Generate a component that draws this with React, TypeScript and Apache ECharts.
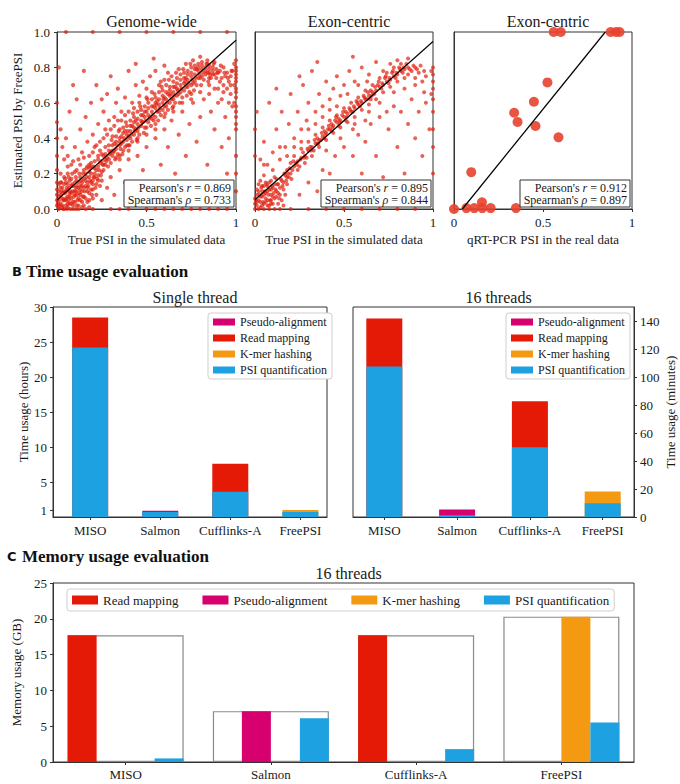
import React, { useEffect, useRef } from "react";
import * as echarts from "echarts";

// ---------- Panel A data ----------
const genomeWidePoints: [number, number][] = [
  // dense cluster near the origin
  [0.01,0.01],[0.02,0.03],[0.03,0.01],[0.04,0.05],[0.05,0.02],[0.06,0.07],[0.07,0.03],[0.08,0.06],[0.09,0.1],[0.1,0.04],
  [0.11,0.08],[0.12,0.12],[0.13,0.05],[0.14,0.1],[0.02,0.08],[0.03,0.12],[0.05,0.1],[0.06,0.14],[0.08,0.13],[0.1,0.15],
  [0.12,0.02],[0.15,0.07],[0.04,0.0],[0.09,0.0],[0.14,0.01],[0.01,0.05],[0.07,0.09],[0.11,0.13],[0.16,0.13],[0.17,0.04],
  [0.18,0.09],[0.19,0.15],[0.2,0.11],[0.02,0.15],[0.04,0.18],[0.06,0.2],[0.08,0.17],[0.1,0.21],[0.13,0.18],[0.16,0.2],
  [0.18,0.18],[0.2,0.06],[0.22,0.14],[0.21,0.2],[0.03,0.06],[0.05,0.06],[0.07,0.12],[0.09,0.04],[0.11,0.02],[0.13,0.08],
  [0.15,0.12],[0.17,0.1],[0.01,0.1],[0.02,0.2],[0.04,0.1],[0.06,0.03],[0.08,0.09],[0.1,0.08],[0.12,0.06],[0.14,0.15],
  [0.0,0.02],[0.0,0.05],[0.0,0.08],[0.0,0.11],[0.01,0.14],[0.02,0.12],[0.03,0.09],[0.04,0.14],[0.05,0.15],[0.06,0.11],
  [0.07,0.16],[0.08,0.03],[0.09,0.13],[0.1,0.1],[0.11,0.16],[0.12,0.15],[0.13,0.11],[0.14,0.04],[0.15,0.02],[0.16,0.06],
  [0.17,0.15],[0.18,0.05],[0.19,0.11],[0.2,0.14],[0.03,0.02],[0.05,0.05],[0.07,0.07],[0.09,0.02],[0.11,0.1],[0.13,0.13],
  [0.06,0.01],[0.01,0.0],[0.12,0.0],[0.16,0.0],[0.18,0.01],[0.22,0.08],[0.24,0.13],[0.23,0.19],[0.25,0.16],[0.26,0.25],
  [0.005,0.03],[0.015,0.07],[0.025,0.1],[0.035,0.05],[0.045,0.09],[0.055,0.12],[0.065,0.05],[0.075,0.1],[0.085,0.14],[0.095,0.07],
  [0.105,0.12],[0.115,0.05],[0.125,0.09],[0.135,0.16],[0.145,0.07],[0.155,0.1],[0.165,0.18],[0.175,0.13],[0.185,0.16],[0.195,0.08],
  [0.205,0.18],[0.215,0.12],[0.225,0.17],[0.235,0.22],[0.245,0.19],[0.015,0.02],[0.035,0.0],[0.055,0.0],[0.075,0.0],[0.105,0.0],
  [0.025,0.15],[0.045,0.17],[0.065,0.18],[0.085,0.2],[0.105,0.18],[0.125,0.2],[0.145,0.2],[0.165,0.23],[0.185,0.23],[0.205,0.24],
  // main band
  [0.15,0.17],[0.15,0.22],[0.17,0.12],[0.17,0.24],[0.19,0.2],[0.19,0.26],[0.21,0.18],[0.21,0.27],[0.23,0.24],[0.23,0.3],
  [0.23,0.16],[0.25,0.27],[0.25,0.21],[0.27,0.31],[0.27,0.25],[0.27,0.35],[0.29,0.28],[0.29,0.33],[0.31,0.36],[0.31,0.3],
  [0.31,0.41],[0.33,0.34],[0.33,0.38],[0.33,0.29],[0.35,0.4],[0.35,0.36],[0.35,0.45],[0.37,0.38],[0.37,0.43],[0.37,0.33],
  [0.39,0.42],[0.39,0.47],[0.39,0.39],[0.41,0.44],[0.41,0.5],[0.41,0.4],[0.43,0.46],[0.43,0.52],[0.43,0.42],[0.45,0.48],
  [0.45,0.55],[0.45,0.44],[0.47,0.5],[0.47,0.47],[0.47,0.56],[0.49,0.52],[0.49,0.46],[0.49,0.58],[0.51,0.53],[0.51,0.49],
  [0.51,0.6],[0.53,0.55],[0.53,0.51],[0.53,0.62],[0.55,0.57],[0.55,0.52],[0.55,0.63],[0.57,0.59],[0.57,0.55],[0.57,0.66],
  [0.59,0.6],[0.59,0.56],[0.59,0.67],[0.61,0.62],[0.61,0.58],[0.61,0.7],[0.63,0.64],[0.63,0.6],[0.63,0.69],[0.65,0.66],
  [0.65,0.62],[0.65,0.72],[0.67,0.68],[0.67,0.64],[0.67,0.74],[0.69,0.7],[0.69,0.66],[0.69,0.76],[0.71,0.71],[0.71,0.67],
  [0.71,0.77],[0.73,0.73],[0.73,0.69],[0.73,0.78],[0.75,0.75],[0.75,0.7],[0.75,0.8],[0.77,0.76],[0.77,0.72],[0.77,0.81],
  [0.79,0.78],[0.79,0.74],[0.79,0.82],[0.81,0.79],[0.81,0.75],[0.81,0.83],[0.83,0.8],[0.83,0.76],[0.85,0.81],[0.85,0.77],
  [0.85,0.74],[0.87,0.8],[0.87,0.76],[0.89,0.79],[0.89,0.74],[0.91,0.78],[0.91,0.72],[0.93,0.8],[0.93,0.7],[0.95,0.77],
  [0.95,0.68],[0.97,0.75],[0.97,0.65],[0.3,0.32],[0.36,0.41],[0.42,0.47],[0.48,0.53],[0.54,0.58],[0.6,0.63],[0.66,0.69],
  [0.72,0.74],[0.78,0.79],[0.84,0.82],[0.26,0.3],[0.32,0.37],[0.38,0.44],[0.44,0.5],[0.5,0.55],[0.56,0.61],[0.62,0.65],
  [0.14,0.13],[0.16,0.16],[0.18,0.21],[0.2,0.16],[0.22,0.22],[0.24,0.26],[0.26,0.22],[0.28,0.29],[0.3,0.26],[0.32,0.33],
  [0.34,0.31],[0.36,0.37],[0.38,0.35],[0.4,0.41],[0.42,0.38],[0.44,0.45],[0.46,0.42],[0.48,0.49],[0.5,0.46],[0.52,0.52],
  [0.54,0.5],[0.56,0.55],[0.58,0.53],[0.6,0.58],[0.62,0.56],[0.64,0.62],[0.66,0.6],[0.68,0.65],[0.7,0.63],[0.72,0.69],
  [0.74,0.66],[0.76,0.71],[0.78,0.7],[0.8,0.74],[0.82,0.73],[0.84,0.77],[0.86,0.74],[0.88,0.76],[0.9,0.77],[0.92,0.74],
  [0.94,0.75],[0.96,0.72],[0.19,0.24],[0.21,0.23],[0.23,0.28],[0.25,0.31],[0.27,0.28],[0.29,0.36],[0.31,0.33],[0.33,0.41],
  [0.35,0.38],[0.37,0.46],[0.39,0.36],[0.41,0.47],[0.43,0.49],[0.45,0.51],[0.47,0.53],[0.49,0.55],[0.51,0.57],[0.53,0.58],
  [0.55,0.6],[0.57,0.62],[0.59,0.64],[0.61,0.66],[0.63,0.67],[0.65,0.69],[0.67,0.71],[0.69,0.73],[0.71,0.74],[0.73,0.76],
  [0.75,0.77],[0.77,0.79],[0.79,0.8],[0.81,0.81],[0.83,0.78],[0.85,0.79],[0.87,0.78],
  [0.255,0.25],[0.275,0.27],[0.295,0.31],[0.315,0.32],[0.335,0.36],[0.355,0.34],[0.375,0.4],[0.395,0.44],[0.415,0.42],[0.435,0.44],
  [0.455,0.46],[0.475,0.49],[0.495,0.5],[0.515,0.51],[0.535,0.53],[0.555,0.59],[0.575,0.57],[0.595,0.62],[0.615,0.6],[0.635,0.65],
  [0.655,0.64],[0.675,0.67],[0.695,0.68],[0.715,0.72],[0.735,0.71],[0.755,0.73],[0.775,0.74],[0.795,0.76],[0.815,0.77],[0.835,0.82],
  [0.855,0.76],[0.875,0.82],[0.895,0.77],[0.915,0.81],[0.935,0.77],[0.955,0.74],[0.975,0.78],
  [0.285,0.24],[0.325,0.28],[0.365,0.31],[0.405,0.36],[0.445,0.39],[0.485,0.43],[0.525,0.47],[0.565,0.5],[0.605,0.54],[0.645,0.57],
  [0.685,0.6],[0.725,0.64],[0.765,0.67],[0.805,0.7],[0.845,0.72],
  [0.305,0.39],[0.345,0.44],[0.385,0.49],[0.425,0.54],[0.465,0.58],[0.505,0.62],[0.545,0.65],[0.585,0.69],[0.625,0.73],[0.665,0.77],
  [0.705,0.79],[0.745,0.82],
  // right edge
  [1,0.84],[1,0.8],[1,0.76],[1,0.72],[1,0.68],[1,0.63],[1,0.58],[1,0.52],[1,0.45],[1,0.3],[1,0.2],[1,0.1],
  [0.99,0.82],[0.99,0.7],[0.99,0.6],[1,0.78],[1,0.74],[1,0.66],[1,0.55],[1,0.48],
  // above the band
  [0.01,0.8],[0.0,0.6],[0.0,0.49],[0.0,0.4],[0.0,0.3],[0.0,0.22],[0.0,0.15],[0.02,0.45],[0.03,0.35],[0.04,0.28],
  [0.05,0.4],[0.06,0.3],[0.07,0.55],[0.08,0.25],[0.1,0.35],[0.11,0.62],[0.12,0.28],[0.13,0.45],[0.14,0.32],[0.16,0.52],
  [0.17,0.38],[0.18,0.3],[0.19,0.6],[0.2,0.42],[0.21,0.35],[0.22,0.7],[0.23,0.48],[0.24,0.38],[0.26,0.55],[0.27,0.45],
  [0.28,0.65],[0.29,0.5],[0.3,0.75],[0.32,0.52],[0.33,0.6],[0.34,0.68],[0.36,0.55],[0.38,0.63],[0.4,0.78],[0.42,0.6],
  [0.44,0.7],[0.46,0.64],[0.48,0.72],[0.5,0.68],[0.52,0.75],[0.55,0.78],[0.58,0.72],[0.6,0.81],[0.62,0.77],[0.54,0.85],
  [0.44,0.82],[0.25,0.62],[0.09,0.7],[0.15,0.78],
  [0.06,0.24],[0.09,0.27],[0.11,0.22],[0.13,0.25],[0.15,0.29],[0.18,0.25],[0.2,0.32],[0.22,0.36],[0.24,0.33],[0.26,0.4],
  [0.28,0.42],[0.3,0.45],[0.32,0.47],[0.34,0.5],[0.36,0.5],[0.38,0.53],[0.4,0.55],[0.43,0.57],[0.46,0.6],[0.5,0.63],
  [0.53,0.66],[0.57,0.7],[0.6,0.73],[0.64,0.75],[0.68,0.79],[0.72,0.82],[0.76,0.84],[0.8,0.86],[0.84,0.84],[0.88,0.83],
  // below the band
  [0.2,0.0],[0.25,0.05],[0.28,0.12],[0.3,0.18],[0.32,0.08],[0.35,0.22],[0.38,0.15],[0.4,0.28],[0.42,0.1],[0.45,0.3],
  [0.48,0.22],[0.5,0.35],[0.52,0.05],[0.55,0.4],[0.58,0.25],[0.6,0.45],[0.62,0.35],[0.64,0.5],[0.66,0.2],[0.68,0.42],
  [0.7,0.55],[0.72,0.3],[0.74,0.48],[0.76,0.6],[0.78,0.38],[0.8,0.52],[0.82,0.62],[0.84,0.25],[0.86,0.55],[0.88,0.45],
  [0.9,0.6],[0.92,0.35],[0.94,0.52],[0.96,0.4],[0.98,0.58],[0.8,0.15],[0.9,0.1],[0.7,0.08],[0.6,0.12],[0.95,0.2],
  [0.85,0.65],[0.75,0.65],[0.65,0.55],[0.55,0.45],[0.45,0.38],[0.4,0.33],[0.35,0.28],[0.88,0.68],[0.92,0.62],[0.96,0.6],
  [0.35,0.3],[0.4,0.36],[0.45,0.4],[0.5,0.42],[0.55,0.48],[0.6,0.52],[0.65,0.58],[0.7,0.6],[0.75,0.62],[0.8,0.66],
  [0.85,0.7],[0.9,0.68],[0.93,0.66],[0.97,0.7],[0.98,0.78],
  // bottom and top edges
  [0.3,0],[0.4,0],[0.5,0],[0.6,0],[0.7,0],[0.8,0],[0.9,0],[0.35,0],[0.55,0],[0.65,0],[0.75,0],[0.85,0],[0.95,0],
  [0.05,1],[0.2,1],[0.35,1],[0.5,1],[0.65,1],[0.8,1],[0.95,1]
];

const exonCentricPoints: [number, number][] = [
  // cluster near the origin
  [0.01,0.02],[0.02,0.05],[0.03,0.01],[0.04,0.07],[0.05,0.03],[0.06,0.09],[0.07,0.05],[0.08,0.02],[0.09,0.08],[0.1,0.12],
  [0.11,0.06],[0.12,0.1],[0.02,0.1],[0.04,0.13],[0.06,0.15],[0.08,0.11],[0.1,0.03],[0.13,0.14],[0.14,0.08],[0.15,0.16],
  [0.01,0.08],[0.03,0.16],[0.05,0.19],[0.07,0.13],[0.09,0.16],[0.11,0.18],[0.13,0.03],[0.16,0.11],[0.17,0.19],[0.18,0.14],
  [0.0,0.0],[0.02,0.0],[0.05,0.0],[0.08,0.0],[0.11,0.0],[0.03,0.04],[0.05,0.08],[0.07,0.02],[0.09,0.05],[0.12,0.07],
  [0.0,0.03],[0.0,0.06],[0.01,0.11],[0.02,0.14],[0.03,0.07],[0.04,0.1],[0.05,0.13],[0.06,0.04],[0.07,0.1],[0.08,0.15],
  [0.09,0.11],[0.1,0.07],[0.11,0.14],[0.12,0.17],[0.13,0.09],[0.14,0.12],[0.15,0.05],[0.16,0.15],[0.17,0.08],[0.18,0.18],
  [0.01,0.04],[0.04,0.02],[0.06,0.06],[0.09,0.03],[0.14,0.0],[0.16,0.02],
  [0.005,0.05],[0.025,0.08],[0.035,0.12],[0.045,0.04],[0.055,0.1],[0.065,0.14],[0.075,0.08],[0.085,0.05],[0.095,0.13],[0.105,0.09],
  [0.115,0.11],[0.125,0.14],[0.135,0.06],[0.145,0.17],[0.155,0.13],[0.165,0.2],[0.175,0.16],[0.185,0.2],[0.195,0.23],[0.205,0.17],
  // main band
  [0.18,0.22],[0.2,0.2],[0.2,0.26],[0.22,0.24],[0.22,0.3],[0.24,0.27],[0.24,0.22],[0.26,0.29],[0.26,0.34],[0.28,0.3],
  [0.28,0.26],[0.3,0.33],[0.3,0.38],[0.32,0.35],[0.32,0.3],[0.34,0.37],[0.34,0.42],[0.36,0.39],[0.36,0.35],[0.38,0.41],
  [0.38,0.46],[0.4,0.43],[0.4,0.39],[0.42,0.45],[0.42,0.5],[0.44,0.47],[0.44,0.43],[0.46,0.49],[0.46,0.53],[0.48,0.5],
  [0.48,0.46],[0.5,0.52],[0.5,0.57],[0.52,0.54],[0.52,0.49],[0.54,0.55],[0.54,0.6],[0.56,0.57],[0.56,0.52],[0.58,0.59],
  [0.58,0.63],[0.6,0.6],[0.6,0.56],[0.62,0.62],[0.62,0.67],[0.64,0.64],[0.64,0.59],[0.66,0.66],[0.66,0.7],[0.68,0.67],
  [0.68,0.62],[0.7,0.69],[0.7,0.74],[0.72,0.7],[0.72,0.66],[0.74,0.72],[0.74,0.77],[0.76,0.73],[0.76,0.69],[0.78,0.75],
  [0.78,0.8],[0.8,0.76],[0.8,0.72],[0.82,0.78],[0.82,0.82],[0.84,0.79],[0.84,0.74],[0.86,0.8],[0.86,0.76],[0.88,0.78],
  [0.9,0.8],[0.9,0.74],[0.92,0.77],[0.94,0.72],[0.96,0.75],[0.43,0.48],[0.47,0.51],[0.51,0.55],[0.39,0.44],[0.35,0.4],
  [0.19,0.18],[0.21,0.22],[0.23,0.26],[0.25,0.24],[0.27,0.32],[0.29,0.29],[0.31,0.35],[0.33,0.33],[0.35,0.37],[0.37,0.39],
  [0.39,0.4],[0.41,0.45],[0.43,0.44],[0.45,0.5],[0.47,0.47],[0.49,0.53],[0.51,0.5],[0.53,0.57],[0.55,0.55],[0.57,0.61],
  [0.59,0.58],[0.61,0.64],[0.63,0.62],[0.65,0.67],[0.67,0.65],[0.69,0.7],[0.71,0.68],[0.73,0.74],[0.75,0.71],[0.77,0.77],
  [0.79,0.74],[0.81,0.8],[0.83,0.77],[0.85,0.82],[0.87,0.79],[0.89,0.81],[0.91,0.79],[0.93,0.81],[0.95,0.78],
  [0.215,0.27],[0.235,0.25],[0.255,0.28],[0.275,0.29],[0.295,0.34],[0.315,0.33],[0.335,0.39],[0.355,0.37],[0.375,0.43],[0.395,0.42],
  [0.415,0.47],[0.435,0.46],[0.455,0.52],[0.475,0.49],[0.495,0.55],[0.515,0.52],[0.535,0.56],[0.555,0.58],[0.575,0.6],[0.595,0.61],
  [0.615,0.63],[0.635,0.66],[0.655,0.64],[0.675,0.69],[0.695,0.72],[0.715,0.71],[0.735,0.75],[0.755,0.74],[0.775,0.78],[0.795,0.77],
  [0.815,0.79],[0.835,0.8],
  // right edge
  [1,0.8],[1,0.76],[1,0.72],[1,0.68],[1,0.62],[1,0.55],[1,0.45],[1,0.35],[1,0.2],[0.99,0.78],[0.99,0.65],
  // above the band
  [0.0,0.45],[0.0,0.3],[0.01,0.55],[0.03,0.28],[0.05,0.38],[0.07,0.25],[0.08,0.6],[0.1,0.32],[0.12,0.45],[0.14,0.28],
  [0.15,0.55],[0.17,0.35],[0.19,0.48],[0.2,0.65],[0.22,0.4],[0.24,0.55],[0.26,0.45],[0.27,0.7],[0.29,0.5],[0.3,0.6],
  [0.32,0.78],[0.34,0.55],[0.36,0.65],[0.38,0.58],[0.4,0.72],[0.42,0.62],[0.44,0.68],[0.46,0.75],[0.48,0.64],[0.5,0.7],
  [0.53,0.78],[0.56,0.72],[0.6,0.8],[0.64,0.76],[0.68,0.83],[0.55,0.86],[0.25,0.75],[0.12,0.68],[0.35,0.83],
  [0.05,0.25],[0.1,0.22],[0.14,0.35],[0.18,0.3],[0.22,0.35],[0.26,0.38],[0.3,0.45],[0.34,0.48],[0.38,0.52],[0.42,0.56],
  [0.46,0.58],[0.52,0.65],[0.58,0.7],[0.63,0.72],[0.72,0.78],[0.76,0.82],[0.8,0.84],[0.86,0.85],
  // below the band
  [0.25,0.08],[0.3,0.15],[0.35,0.1],[0.38,0.22],[0.42,0.2],[0.45,0.3],[0.48,0.15],[0.5,0.35],[0.52,0.08],[0.55,0.3],
  [0.58,0.42],[0.6,0.2],[0.62,0.38],[0.65,0.48],[0.68,0.3],[0.7,0.52],[0.72,0.18],[0.75,0.45],[0.78,0.58],[0.8,0.35],
  [0.82,0.55],[0.84,0.2],[0.86,0.48],[0.88,0.62],[0.9,0.4],[0.92,0.55],[0.94,0.3],[0.96,0.6],[0.98,0.45],[0.75,0.1],
  [0.85,0.05],[0.65,0.62],[0.55,0.45],[0.4,0.33],[0.48,0.4],[0.56,0.48],[0.64,0.55],[0.7,0.6],[0.78,0.66],[0.84,0.68],
  [0.9,0.7],[0.95,0.66],[0.62,0.5],[0.74,0.55],
  // bottom edge
  [0.2,0],[0.3,0],[0.4,0],[0.5,0],[0.6,0],[0.7,0],[0.8,0],[0.9,0]
];

const qpcrPoints: [number, number][] = [
  [0.56,1],[0.6,1],[0.88,1],[0.91,1],[0.93,1],
  [0.525,0.715],[0.449,0.606],[0.338,0.544],[0.357,0.492],[0.458,0.469],[0.587,0.405],
  [0.097,0.208],[0.157,0.038],
  [0,0],[0.07,0.005],[0.114,0.005],[0.159,0.005],[0.206,0.005],[0.348,0.005]
];

const genomeWideFit: [number, number][] = [[0, 0.05], [1, 0.953]];
const exonCentricFit: [number, number][] = [[0, 0.052], [1, 0.946]];
const qpcrFit: [number, number][] = [[0.047, 0], [0.85, 1]];

const scatterTitles = ["Genome-wide", "Exon-centric", "Exon-centric"];
const scatterXLabels = ["True PSI in the simulated data", "True PSI in the simulated data", "qRT-PCR PSI in the real data"];
const pearsonR = ["0.869", "0.895", "0.912"];
const spearmanRho = ["0.733", "0.844", "0.897"];

// ---------- Panel B data ----------
const tools = ["MISO", "Salmon", "Cufflinks-A", "FreePSI"];
const stageNames = ["Pseudo-alignment", "Read mapping", "K-mer hashing", "PSI quantification"];

// single thread, hours
const psiQuantHours = [24.2, 0.7, 3.6, 0.7];
const pseudoAlignHours = [0, 0.2, 0, 0];
const readMappingHours = [4.3, 0, 4.0, 0];
const kmerHashingHours = [0, 0, 0, 0.3];
const hourTicks = [1, 5, 10, 15, 20, 25, 30];

// 16 threads, minutes
const psiQuantMinutes = [107.5, 1.3, 49.8, 9.8];
const pseudoAlignMinutes = [0, 4.0, 0, 0];
const readMappingMinutes = [34.2, 0, 32.8, 0];
const kmerHashingMinutes = [0, 0, 0, 8.4];
const minuteTicks = [0, 20, 40, 60, 80, 100, 120, 140];

// ---------- Panel C data (GB) ----------
const memReadMapping = [17.7, 0, 17.7, 0];
const memPseudoAlign = [0, 7.1, 0, 0];
const memKmerHashing = [0, 0, 0, 20.3];
const memPsiQuant = [0.5, 6.1, 1.8, 5.5];

// ---------- styles ----------
const FONT = "'Liberation Serif', 'Times New Roman', Times, serif";
const TXT = "#1a1a1a";
const AX = "#333333";
const COLORS: Record<string, string> = {
  "Pseudo-alignment": "#d6006e",
  "Read mapping": "#e51a06",
  "K-mer hashing": "#f39a12",
  "PSI quantification": "#1ea1e0",
};

const scatterGrids = [
  { left: 57, width: 179 },
  { left: 255, width: 178 },
  { left: 454, width: 178 },
];
const A_TOP = 32;
const A_H = 177;

function buildOption() {
  const grid: any[] = [];
  const xAxis: any[] = [];
  const yAxis: any[] = [];
  const series: any[] = [];
  const title: any[] = [];
  const graphic: any[] = [];
  const legend: any[] = [];

  const tStyle = { fontFamily: FONT, color: TXT };

  const scatterData = [genomeWidePoints, exonCentricPoints, qpcrPoints];
  const fits = [genomeWideFit, exonCentricFit, qpcrFit];
  const pointSizes = [4.2, 4, 10];

  scatterGrids.forEach((g, i) => {
    grid.push({
      left: g.left, top: A_TOP, width: g.width, height: A_H,
      show: true, borderColor: AX, borderWidth: 1, backgroundColor: "transparent",
      outerBoundsMode: "none",
    });
    xAxis.push({
      gridIndex: i, type: "value", min: 0, max: 1, interval: 0.5,
      axisLine: { show: true, onZero: false, lineStyle: { color: AX } },
      axisTick: { show: true, length: 3, lineStyle: { color: AX } },
      splitLine: { show: false },
      axisLabel: {
        ...tStyle, fontSize: 13, margin: 7,
        formatter: (v: number) => (v === 0 ? "0" : v === 1 ? "1" : String(v)),
      },
      name: scatterXLabels[i], nameLocation: "middle", nameGap: 24,
      nameTextStyle: { ...tStyle, fontSize: 13 },
    });
    yAxis.push({
      gridIndex: i, type: "value", min: 0, max: 1, interval: 0.2,
      axisLine: { show: true, onZero: false, lineStyle: { color: AX } },
      axisTick: { show: i === 0, length: 3, lineStyle: { color: AX } },
      splitLine: { show: false },
      axisLabel: { show: i === 0, ...tStyle, fontSize: 13, margin: 7, formatter: (v: number) => v.toFixed(1) },
      name: i === 0 ? "Estimated PSI by FreePSI" : "",
      nameLocation: "middle", nameGap: 33,
      nameTextStyle: { ...tStyle, fontSize: 13 },
    });
    series.push({
      type: "scatter", xAxisIndex: i, yAxisIndex: i, data: scatterData[i],
      symbolSize: pointSizes[i],
      itemStyle: { color: i === 2 ? "#e8412f" : "#df1f0e", opacity: i === 2 ? 0.9 : 0.7 },
      silent: true, z: 2,
    });
    series.push({
      type: "line", xAxisIndex: i, yAxisIndex: i, data: fits[i], symbol: "none",
      lineStyle: { color: "#000", width: 1.2 }, silent: true, z: 5,
    });
    title.push({
      text: scatterTitles[i], left: g.left + g.width / 2, top: 8, textAlign: "center",
      textStyle: { ...tStyle, fontSize: 16, fontWeight: "normal" },
    });
    const right = g.left + g.width;
    const boxW = 110, boxH = 27;
    const boxY = A_TOP + A_H - 2 - boxH;
    graphic.push({
      type: "rect", z: 20,
      shape: { x: right - 2 - boxW, y: boxY, width: boxW, height: boxH },
      style: { fill: "#fff", stroke: "#333", lineWidth: 1 },
    });
    const rich = {
      a: { fontFamily: FONT, fontSize: 12, fill: TXT },
      b: { fontFamily: FONT, fontSize: 12, fontStyle: "italic", fill: TXT },
    };
    graphic.push({
      type: "text", z: 21, x: right - 5, y: boxY + 7.5,
      style: { text: `{a|Pearson's }{b|r}{a| = ${pearsonR[i]}}`, rich, align: "right", verticalAlign: "middle", fontFamily: FONT, fontSize: 12 },
    });
    graphic.push({
      type: "text", z: 21, x: right - 5, y: boxY + 20,
      style: { text: `{a|Spearman's }{b|ρ}{a| = ${spearmanRho[i]}}`, rich, align: "right", verticalAlign: "middle", fontFamily: FONT, fontSize: 12 },
    });
  });

  // ---------- Panel B ----------
  const bPanels = [
    {
      left: 53, width: 274, xmin: -0.53, xmax: 3.38, ymax: 30, ticks: hourTicks, pos: "left",
      name: "Time usage (hours)", nameGap: 16, title: "Single thread", legendLeft: 208,
      psi: psiQuantHours, pseudo: pseudoAlignHours, read: readMappingHours, kmer: kmerHashingHours,
    },
    {
      left: 353, width: 281, xmin: -0.43, xmax: 3.43, ymax: 150, ticks: minuteTicks, pos: "right",
      name: "Time usage (minutes)", nameGap: 30, title: "16 threads", legendLeft: 506,
      psi: psiQuantMinutes, pseudo: pseudoAlignMinutes, read: readMappingMinutes, kmer: kmerHashingMinutes,
    },
  ];
  bPanels.forEach((p, k) => {
    const gi = 3 + k;
    grid.push({
      left: p.left, top: 307, width: p.width, height: 210,
      show: true, borderColor: AX, borderWidth: 1, backgroundColor: "transparent",
      outerBoundsMode: "none",
    });
    xAxis.push({
      gridIndex: gi, type: "value", min: p.xmin, max: p.xmax,
      axisLine: { show: true, onZero: false, lineStyle: { color: AX } },
      axisTick: { show: true, length: 3, lineStyle: { color: AX }, customValues: [0, 1, 2, 3] },
      splitLine: { show: false },
      axisLabel: {
        ...tStyle, fontSize: 13, margin: 7, customValues: [0, 1, 2, 3],
        formatter: (v: number) => tools[Math.round(v)] ?? "",
      },
    });
    yAxis.push({
      gridIndex: gi, type: "value", min: 0, max: p.ymax, position: p.pos,
      axisLine: { show: true, onZero: false, lineStyle: { color: AX } },
      axisTick: { show: true, length: 3, lineStyle: { color: AX }, customValues: p.ticks },
      splitLine: { show: false },
      axisLabel: { ...tStyle, fontSize: 13, margin: 6, customValues: p.ticks },
      name: p.name, nameLocation: "middle", nameGap: p.nameGap, nameRotate: 90,
      nameTextStyle: { ...tStyle, fontSize: 13 },
    });
    // stacked from bottom: PSI quantification, pseudo-alignment, read mapping, k-mer hashing
    const layers: [string, number[]][] = [
      ["PSI quantification", p.psi],
      ["Pseudo-alignment", p.pseudo],
      ["Read mapping", p.read],
      ["K-mer hashing", p.kmer],
    ];
    const cumulative: number[][] = [];
    layers.forEach(([, arr], li) => {
      cumulative.push(arr.map((v, i) => v + (li > 0 ? cumulative[li - 1][i] : 0)));
    });
    // draw the top layer first; lower layers are drawn over it
    for (let li = layers.length - 1; li >= 0; li--) {
      const nm = layers[li][0];
      const arr = layers[li][1];
      series.push({
        type: "bar", name: nm, xAxisIndex: gi, yAxisIndex: gi,
        barWidth: 36, barGap: "-100%",
        data: cumulative[li].map((v, i) => [i, arr[i] > 0 ? v : 0]),
        itemStyle: { color: COLORS[nm] }, silent: true, z: 2 + (layers.length - li),
      });
    }
    title.push({
      text: p.title, left: p.left + p.width / 2, top: 284, textAlign: "center",
      textStyle: { ...tStyle, fontSize: 16, fontWeight: "normal" },
    });
    legend.push({
      left: p.legendLeft, top: 313, orient: "vertical", data: stageNames,
      icon: "rect", itemWidth: 22, itemHeight: 7, itemGap: 2, padding: [2, 5],
      borderColor: "#cfcfcf", borderWidth: 1, borderRadius: 3, backgroundColor: "#fff",
      textStyle: { ...tStyle, fontSize: 12, lineHeight: 14 }, selectedMode: false,
    });
  });

  // ---------- Panel C ----------
  grid.push({
    left: 53, top: 583, width: 581, height: 179,
    show: true, borderColor: AX, borderWidth: 1, backgroundColor: "transparent",
    outerBoundsMode: "none",
  });
  xAxis.push({
    gridIndex: 5, type: "category", data: tools, boundaryGap: true,
    axisLine: { show: true, onZero: false, lineStyle: { color: AX } },
    axisTick: { show: true, length: 3, alignWithLabel: true, lineStyle: { color: AX } },
    axisLabel: { ...tStyle, fontSize: 13, margin: 6 },
  });
  xAxis.push({ gridIndex: 5, type: "category", data: tools, show: false });
  yAxis.push({
    gridIndex: 5, type: "value", min: 0, max: 25, interval: 5,
    axisLine: { show: true, onZero: false, lineStyle: { color: AX } },
    axisTick: { show: true, length: 3, lineStyle: { color: AX } },
    splitLine: { show: false },
    axisLabel: { ...tStyle, fontSize: 13, margin: 6 },
    name: "Memory usage (GB)", nameLocation: "middle", nameGap: 22,
    nameTextStyle: { ...tStyle, fontSize: 13 },
  });
  const memMax = tools.map((_, i) =>
    Math.max(memReadMapping[i], memPseudoAlign[i], memKmerHashing[i], memPsiQuant[i])
  );
  series.push({
    type: "bar", name: "peak", xAxisIndex: 6, yAxisIndex: 5, data: memMax, barWidth: 116,
    itemStyle: { color: "rgba(0,0,0,0)", borderColor: "#8a8a8a", borderWidth: 1.2 },
    silent: true, z: 1,
  });
  const cOrder: [string, number[]][] = [
    ["Read mapping", memReadMapping],
    ["Pseudo-alignment", memPseudoAlign],
    ["K-mer hashing", memKmerHashing],
    ["PSI quantification", memPsiQuant],
  ];
  cOrder.forEach(([nm, arr]) => {
    series.push({
      type: "bar", name: nm, xAxisIndex: 5, yAxisIndex: 5, data: arr, barWidth: 29, barGap: "0%",
      itemStyle: { color: COLORS[nm] }, silent: true, z: 3,
    });
  });
  legend.push({
    left: 67, top: 589, orient: "horizontal", data: cOrder.map((c) => c[0]),
    icon: "rect", itemWidth: 26, itemHeight: 9, itemGap: 24, padding: [4, 5],
    borderColor: "#cfcfcf", borderWidth: 1, borderRadius: 3, backgroundColor: "#fff",
    textStyle: { ...tStyle, fontSize: 13, lineHeight: 14 }, selectedMode: false,
  });
  title.push({
    text: "16 threads", left: 53 + 581 / 2, top: 560, textAlign: "center",
    textStyle: { ...tStyle, fontSize: 16, fontWeight: "normal" },
  });

  // section headings
  graphic.push({ type: "text", x: 12, y: 271, style: { text: "B", fontFamily: "DejaVu Sans", fontWeight: "bold", fontSize: 13, fill: "#111", verticalAlign: "middle" } });
  graphic.push({ type: "text", x: 26, y: 271, style: { text: "Time usage evaluation", fontFamily: FONT, fontWeight: "bold", fontSize: 17, fill: "#111", verticalAlign: "middle" } });
  graphic.push({ type: "text", x: 7, y: 556, style: { text: "C", fontFamily: "DejaVu Sans", fontWeight: "bold", fontSize: 13, fill: "#111", verticalAlign: "middle" } });
  graphic.push({ type: "text", x: 22, y: 556, style: { text: "Memory usage evaluation", fontFamily: FONT, fontWeight: "bold", fontSize: 17, fill: "#111", verticalAlign: "middle" } });

  return {
    animation: false,
    backgroundColor: "#fff",
    textStyle: { fontFamily: FONT },
    title, grid, xAxis, yAxis, series, legend, graphic,
  };
}

export default function App() {
  const ref = useRef<HTMLDivElement>(null);
  useEffect(() => {
    if (!ref.current) return;
    const chart = echarts.init(ref.current, null, { renderer: "svg" });
    chart.setOption(buildOption() as any);
    return () => chart.dispose();
  }, []);
  return (
    <div
      ref={ref}
      style={{ position: "absolute", left: 0, top: 0, width: 680, height: 784, background: "#fff" }}
    />
  );
}
